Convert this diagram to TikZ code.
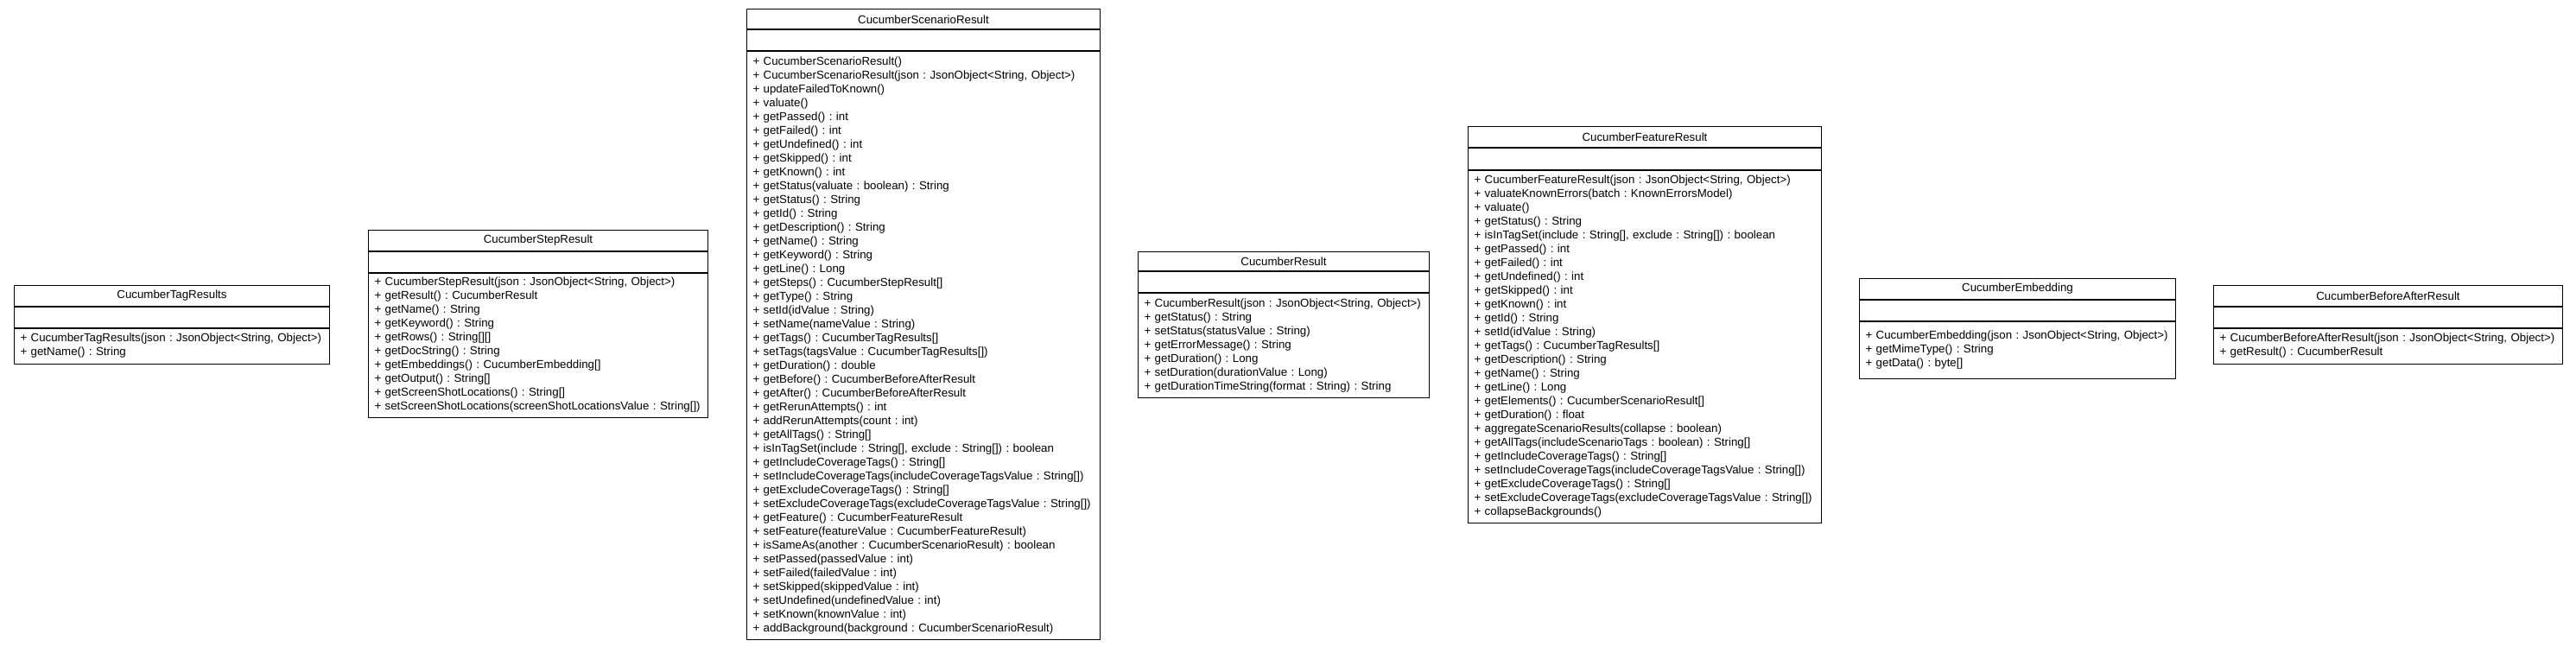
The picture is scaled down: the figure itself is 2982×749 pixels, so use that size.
\documentclass[tikz,border=0pt]{standalone}
\usepackage{fontspec}
\setmainfont{Liberation Sans}
\usetikzlibrary{positioning}

\newcommand{\umlfont}{\fontsize{13.3}{16}\selectfont\frenchspacing\hyphenpenalty=10000\exhyphenpenalty=10000}

\begin{document}
\begin{tikzpicture}[x=1pt, y=-1pt,
    node distance=0pt,
    box/.style={draw, rectangle, line width=1pt, inner xsep=7pt, inner ysep=0pt, font=\umlfont},
    classname/.style={box, anchor=north west, align=center, minimum height=23.5pt},
    classattr/.style={box, minimum height=24pt},
    classops/.style={box, align=left, inner ysep=3pt},
]
\path[use as bounding box, fill=white] (0,0) rectangle (2982,749);

% CucumberTagResults
\node[classname, text width=351pt] (tagName) at (16,330) {CucumberTagResults};
\node[classattr, text width=351pt, below=of tagName] (tagAttr) {};
\node[classops, text width=351pt, minimum height=41pt, below=of tagAttr] (tagOps) {%
+ CucumberTagResults(json : JsonObject<String, Object>)\\
+ getName() : String};

% CucumberStepResult
\node[classname, text width=379pt] (stepName) at (426,266) {CucumberStepResult};
\node[classattr, text width=379pt, below=of stepName] (stepAttr) {};
\node[classops, text width=379pt, minimum height=167pt, below=of stepAttr] (stepOps) {%
+ CucumberStepResult(json : JsonObject<String, Object>)\\
+ getResult() : CucumberResult\\
+ getName() : String\\
+ getKeyword() : String\\
+ getRows() : String[][]\\
+ getDocString() : String\\
+ getEmbeddings() : CucumberEmbedding[]\\
+ getOutput() : String[]\\
+ getScreenShotLocations() : String[]\\
+ setScreenShotLocations(screenShotLocationsValue : String[])};

% CucumberScenarioResult
\node[classname, text width=395pt] (scenName) at (864,10) {CucumberScenarioResult};
\node[classattr, text width=395pt, below=of scenName] (scenAttr) {};
\node[classops, text width=395pt, minimum height=680pt, below=of scenAttr] (scenOps) {%
+ CucumberScenarioResult()\\
+ CucumberScenarioResult(json : JsonObject<String, Object>)\\
+ updateFailedToKnown()\\
+ valuate()\\
+ getPassed() : int\\
+ getFailed() : int\\
+ getUndefined() : int\\
+ getSkipped() : int\\
+ getKnown() : int\\
+ getStatus(valuate : boolean) : String\\
+ getStatus() : String\\
+ getId() : String\\
+ getDescription() : String\\
+ getName() : String\\
+ getKeyword() : String\\
+ getLine() : Long\\
+ getSteps() : CucumberStepResult[]\\
+ getType() : String\\
+ setId(idValue : String)\\
+ setName(nameValue : String)\\
+ getTags() : CucumberTagResults[]\\
+ setTags(tagsValue : CucumberTagResults[])\\
+ getDuration() : double\\
+ getBefore() : CucumberBeforeAfterResult\\
+ getAfter() : CucumberBeforeAfterResult\\
+ getRerunAttempts() : int\\
+ addRerunAttempts(count : int)\\
+ getAllTags() : String[]\\
+ isInTagSet(include : String[], exclude : String[]) : boolean\\
+ getIncludeCoverageTags() : String[]\\
+ setIncludeCoverageTags(includeCoverageTagsValue : String[])\\
+ getExcludeCoverageTags() : String[]\\
+ setExcludeCoverageTags(excludeCoverageTagsValue : String[])\\
+ getFeature() : CucumberFeatureResult\\
+ setFeature(featureValue : CucumberFeatureResult)\\
+ isSameAs(another : CucumberScenarioResult) : boolean\\
+ setPassed(passedValue : int)\\
+ setFailed(failedValue : int)\\
+ setSkipped(skippedValue : int)\\
+ setUndefined(undefinedValue : int)\\
+ setKnown(knownValue : int)\\
+ addBackground(background : CucumberScenarioResult)};

% CucumberResult
\node[classname, text width=323pt, minimum height=22pt] (resName) at (1317,291) {CucumberResult};
\node[classattr, text width=323pt, below=of resName] (resAttr) {};
\node[classops, text width=323pt, minimum height=121pt, below=of resAttr] (resOps) {%
+ CucumberResult(json : JsonObject<String, Object>)\\
+ getStatus() : String\\
+ setStatus(statusValue : String)\\
+ getErrorMessage() : String\\
+ getDuration() : Long\\
+ setDuration(durationValue : Long)\\
+ getDurationTimeString(format : String) : String};

% CucumberFeatureResult
\node[classname, text width=395pt] (featName) at (1699,146) {CucumberFeatureResult};
\node[classattr, text width=395pt, minimum height=25pt, below=of featName] (featAttr) {};
\node[classops, text width=395pt, minimum height=408pt, below=of featAttr] (featOps) {%
+ CucumberFeatureResult(json : JsonObject<String, Object>)\\
+ valuateKnownErrors(batch : KnownErrorsModel)\\
+ valuate()\\
+ getStatus() : String\\
+ isInTagSet(include : String[], exclude : String[]) : boolean\\
+ getPassed() : int\\
+ getFailed() : int\\
+ getUndefined() : int\\
+ getSkipped() : int\\
+ getKnown() : int\\
+ getId() : String\\
+ setId(idValue : String)\\
+ getTags() : CucumberTagResults[]\\
+ getDescription() : String\\
+ getName() : String\\
+ getLine() : Long\\
+ getElements() : CucumberScenarioResult[]\\
+ getDuration() : float\\
+ aggregateScenarioResults(collapse : boolean)\\
+ getAllTags(includeScenarioTags : boolean) : String[]\\
+ getIncludeCoverageTags() : String[]\\
+ setIncludeCoverageTags(includeCoverageTagsValue : String[])\\
+ getExcludeCoverageTags() : String[]\\
+ setExcludeCoverageTags(excludeCoverageTagsValue : String[])\\
+ collapseBackgrounds()};

% CucumberEmbedding
\node[classname, text width=352pt] (embName) at (2152,322) {CucumberEmbedding};
\node[classattr, text width=352pt, below=of embName] (embAttr) {};
\node[classops, text width=352pt, minimum height=66pt, below=of embAttr] (embOps) {%
+ CucumberEmbedding(json : JsonObject<String, Object>)\\
+ getMimeType() : String\\
+ getData() : byte[]};

% CucumberBeforeAfterResult
\node[classname, text width=390pt] (baName) at (2562,330) {CucumberBeforeAfterResult};
\node[classattr, text width=390pt, below=of baName] (baAttr) {};
\node[classops, text width=390pt, minimum height=41pt, below=of baAttr] (baOps) {%
+ CucumberBeforeAfterResult(json : JsonObject<String, Object>)\\
+ getResult() : CucumberResult};
\end{tikzpicture}
\end{document}
